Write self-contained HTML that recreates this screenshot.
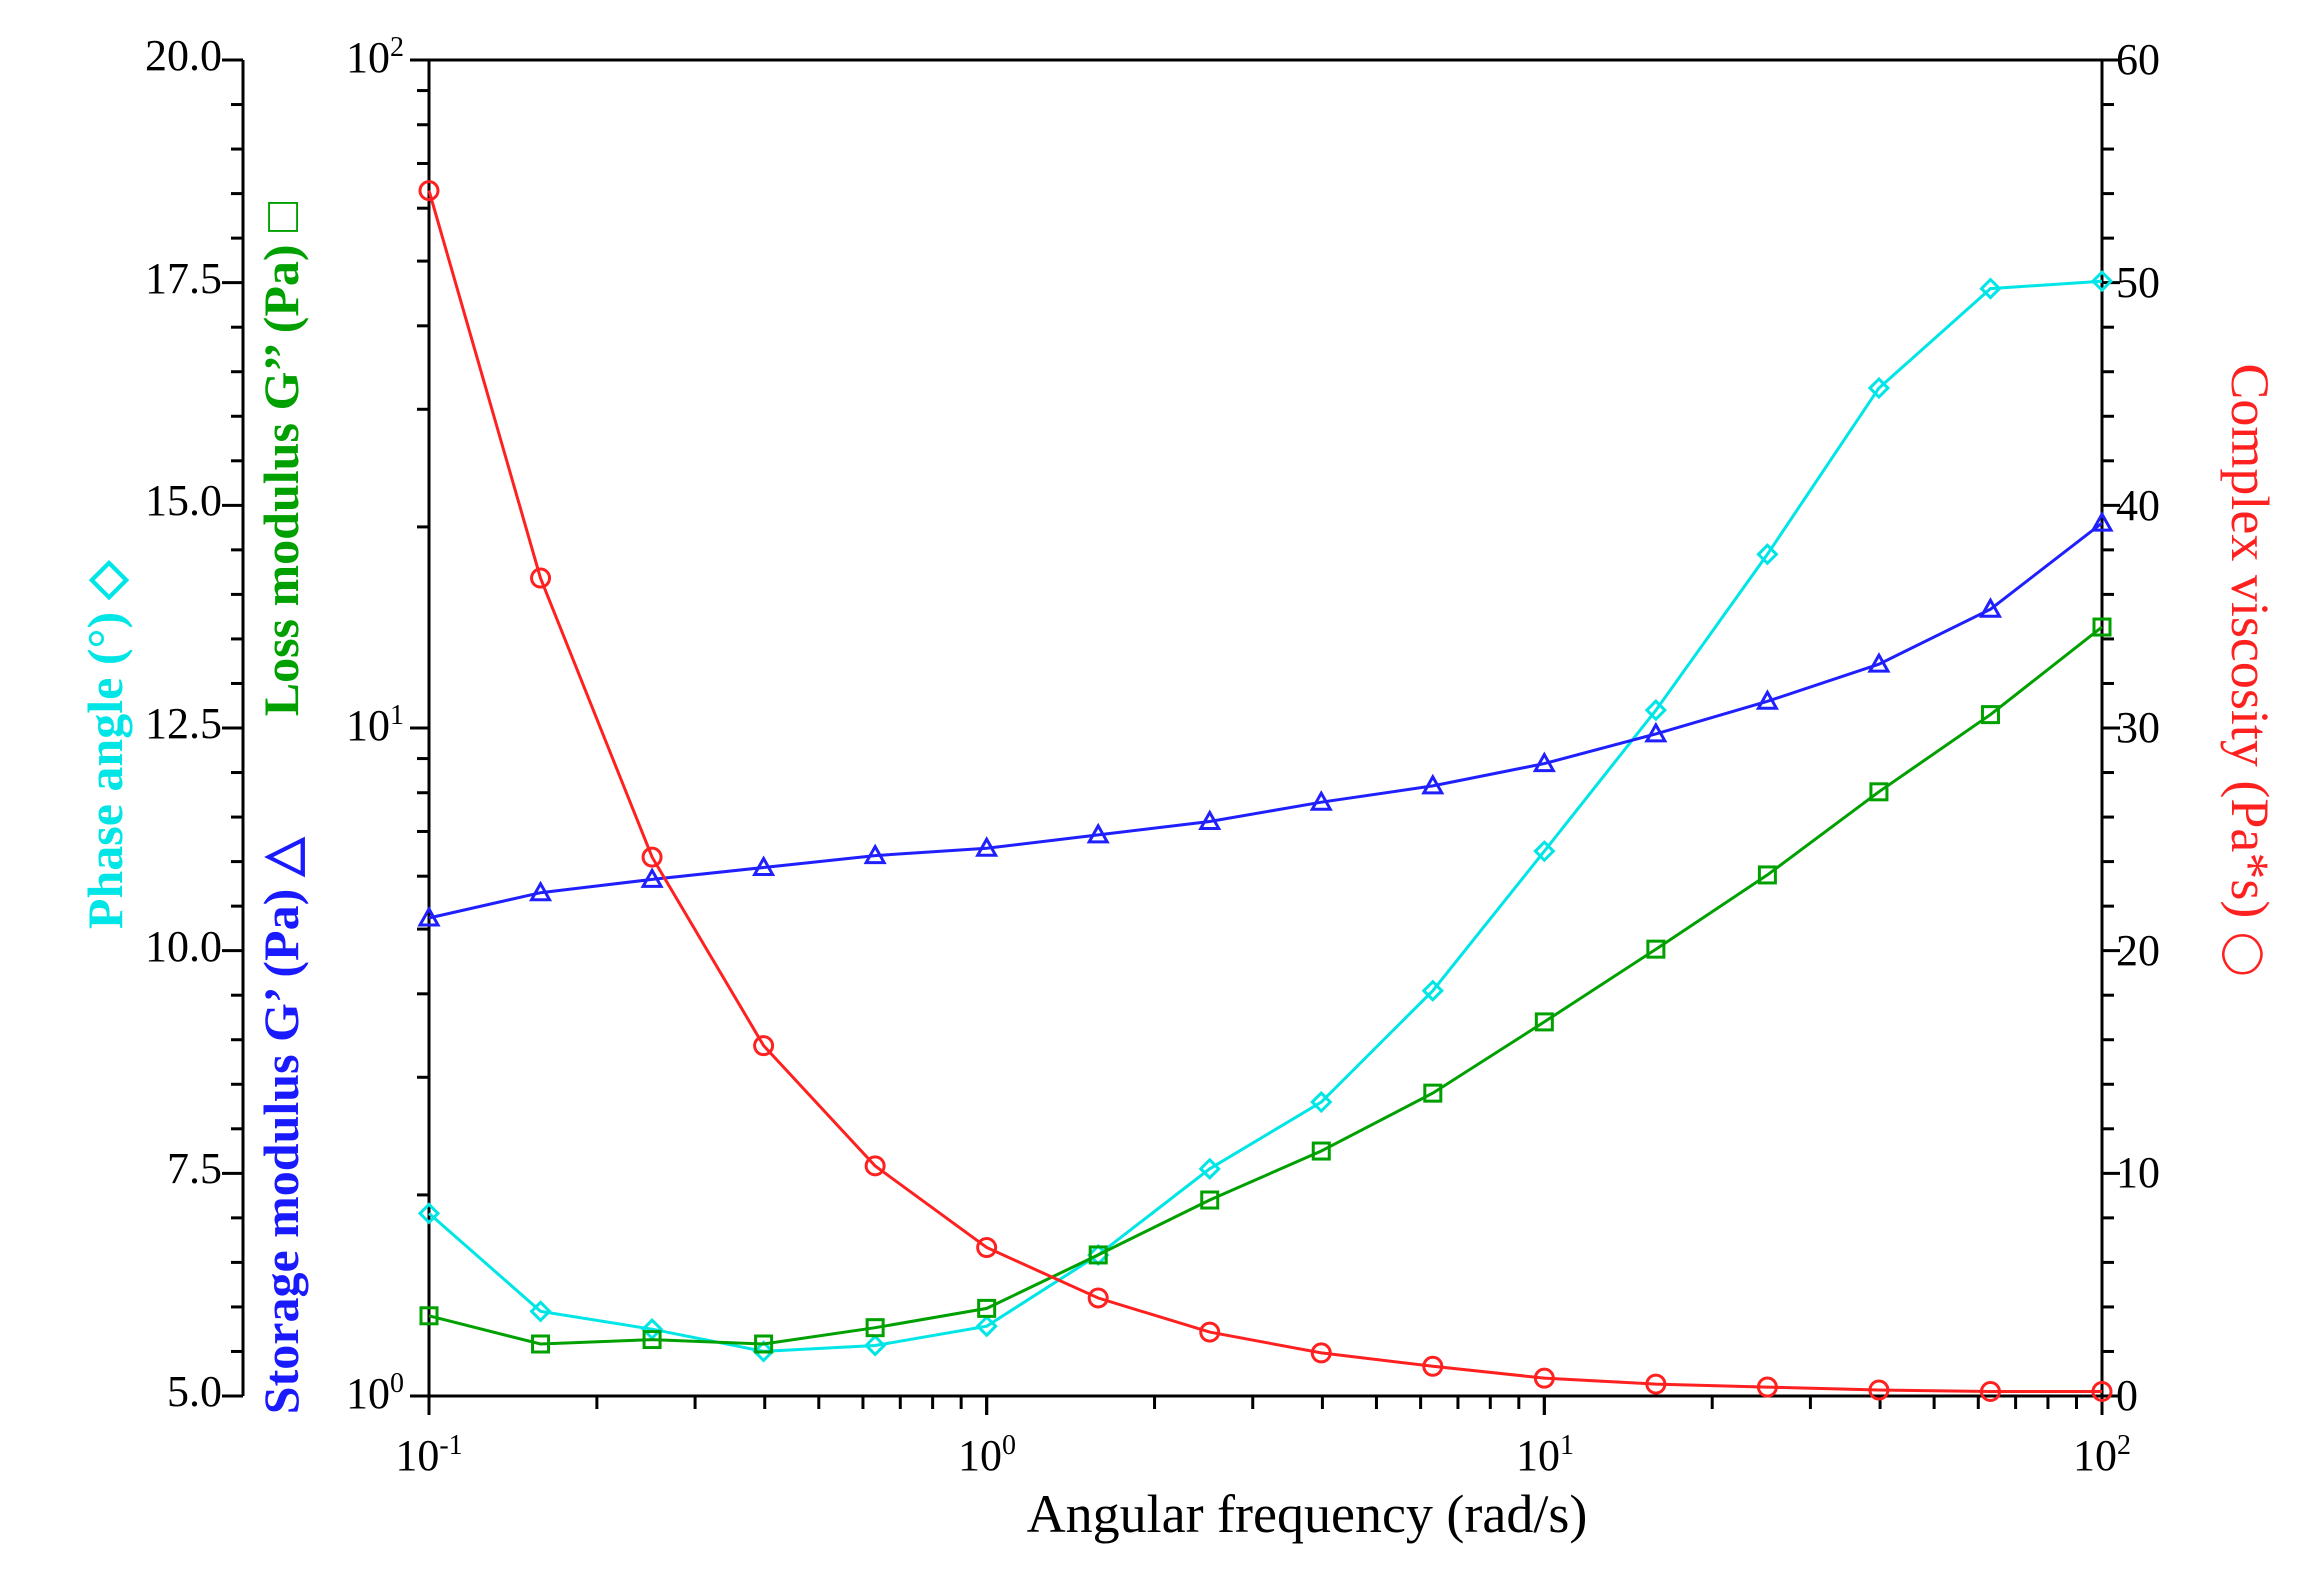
<!DOCTYPE html>
<html><head><meta charset="utf-8"><style>
html,body{margin:0;padding:0;background:#fff;}
svg{display:block;}
text{font-family:"Liberation Serif",serif;}
</style></head><body>
<svg id="s" width="2324" height="1571" viewBox="0 0 2324 1571" xmlns="http://www.w3.org/2000/svg">
<g id="axes" stroke="#000" stroke-width="3" fill="none">
<line x1="243" y1="60" x2="243" y2="1396"/>
<line x1="429" y1="60" x2="429" y2="1396"/>
<line x1="410" y1="1396" x2="2102" y2="1396"/>
<line x1="410" y1="60" x2="2102" y2="60"/>
<line x1="2102" y1="60" x2="2102" y2="1396"/>
</g>
<g font-size="44" fill="#000" text-anchor="end">
<text x="222" y="70">20.0</text>
<text x="222" y="293">17.5</text>
<text x="222" y="515">15.0</text>
<text x="222" y="738">12.5</text>
<text x="222" y="961">10.0</text>
<text x="222" y="1183">7.5</text>
<text x="222" y="1406">5.0</text>
<text x="404" y="72">10<tspan font-size="28" dy="-16">2</tspan></text>
<text x="404" y="740">10<tspan font-size="28" dy="-16">1</tspan></text>
<text x="404" y="1408">10<tspan font-size="28" dy="-16">0</tspan></text>
</g>
<g font-size="44" fill="#000" text-anchor="start">
<text x="2116" y="74">60</text>
<text x="2116" y="297">50</text>
<text x="2116" y="520">40</text>
<text x="2116" y="742">30</text>
<text x="2116" y="965">20</text>
<text x="2116" y="1187">10</text>
<text x="2116" y="1410">0</text>
</g>
<g font-size="44" fill="#000" text-anchor="middle">
<text x="429" y="1470">10<tspan font-size="28" dy="-16">-1</tspan></text>
<text x="987" y="1470">10<tspan font-size="28" dy="-16">0</tspan></text>
<text x="1545" y="1470">10<tspan font-size="28" dy="-16">1</tspan></text>
<text x="2102" y="1470">10<tspan font-size="28" dy="-16">2</tspan></text>
<text x="1307" y="1532" font-size="54">Angular frequency (rad/s)</text>
</g>
<g font-size="50" font-weight="bold" text-anchor="middle">
<text transform="translate(122,745) rotate(-90)" fill="#00e5e5">Phase angle (°) ◇</text>
<text transform="translate(298,1126) rotate(-90)" fill="#1a1aff">Storage modulus G’ (Pa) △</text>
<text transform="translate(298,459) rotate(-90)" fill="#00a000">Loss modulus G’’ (Pa) □</text>
<text transform="translate(2232,670) rotate(90)" fill="#ff2020" font-weight="normal" font-size="54">Complex viscosity (Pa*s) <tspan font-size="40">◯</tspan></text>
</g>
<g id="data"></g>
</svg>
<script>
var s=document.getElementById('axes'),d=document.getElementById('data');
function L(x1,y1,x2,y2){var l=document.createElementNS('http://www.w3.org/2000/svg','line');l.setAttribute('x1',x1);l.setAttribute('y1',y1);l.setAttribute('x2',x2);l.setAttribute('y2',y2);s.appendChild(l);}
var T=60,B=1396,H=B-T;
for(var i=0;i<=30;i++){var y=T+i*H/30;L(243,y,i%5==0?222:231,y);}
for(var i=0;i<=30;i++){var y=T+i*H/30;L(2102,y,i%5==0?2120:2114,y);}
for(var dd=0;dd<2;dd++)for(var k=1;k<=10;k++){var y=B-(dd+Math.log10(k))*H/2;L(429,y,k==1||k==10?410:417,y);}
for(var dd=0;dd<3;dd++)for(var k=1;k<=10;k++){var x=429+(dd+Math.log10(k))*1673/3;L(x,1396,x,k==1||k==10?1415:1409);}
function X(k){return 429+k*1673/15;}
function Y(dy){return 60+(dy-40)*1.4844;}
var S=[
['#00e5e5','d',[817,883,895,910,906,893,845,787,742,667,573,478,373,261,194,189]],
['#00a000','s',[886,905,902,905,894,881,845,808,775,736,688,639,589,533,481,422]],
['#2020ff','t',[618,601,592,584,576,571,562,553,540,529,514,494,472,447,410,352]],
['#ff2020','c',[128,389,577,704,785,840,874,897,911,920,928,932,934,936,937,937]]];
var h='';
S.forEach(function(e){var c=e[0],p=[];e[2].forEach(function(v,k){p.push(X(k).toFixed(1)+','+Y(v).toFixed(1));});
h+='<polyline points="'+p.join(' ')+'" fill="none" stroke="'+c+'" stroke-width="3"/>';
e[2].forEach(function(v,k){var x=X(k),y=Y(v);
if(e[1]=='d')h+='<polygon points="'+x+','+(y-9)+' '+(x+9)+','+y+' '+x+','+(y+9)+' '+(x-9)+','+y+'" fill="none" stroke="'+c+'" stroke-width="3"/>';
if(e[1]=='s')h+='<rect x="'+(x-8)+'" y="'+(y-8)+'" width="16" height="16" fill="none" stroke="'+c+'" stroke-width="3"/>';
if(e[1]=='t')h+='<polygon points="'+x+','+(y-9)+' '+(x+9)+','+(y+7)+' '+(x-9)+','+(y+7)+'" fill="none" stroke="'+c+'" stroke-width="3"/>';
if(e[1]=='c')h+='<circle cx="'+x+'" cy="'+y+'" r="9" fill="none" stroke="'+c+'" stroke-width="3"/>';});});
d.innerHTML=h;
</script>
</body></html>
